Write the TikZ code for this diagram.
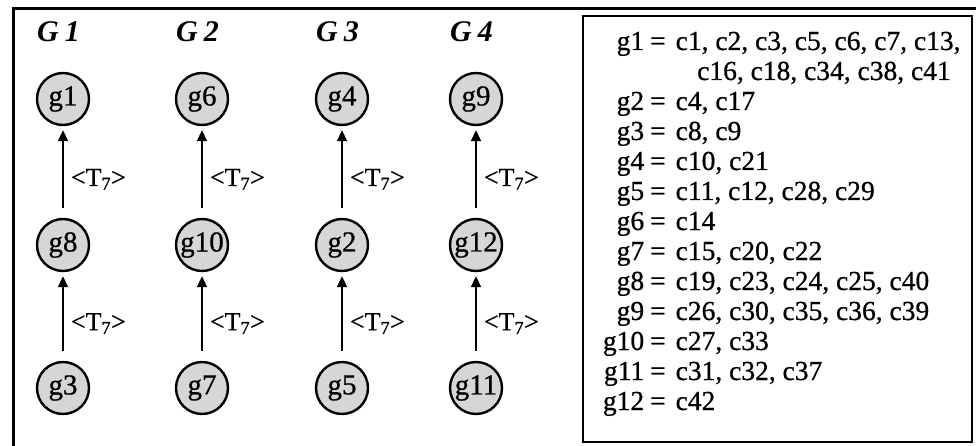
\documentclass[tikz,border=0pt]{standalone}
\usepackage{fontspec}
\setmainfont{Liberation Serif}
\newfontfamily\heavyserif{Liberation Serif}[FakeBold=0.7]
\usetikzlibrary{arrows.meta}
\newcommand\gline[2]{\makebox[42pt][r]{#1}\hspace{6pt}=\hspace{10pt}#2}
\begin{document}
\begin{tikzpicture}[x=1pt,y=-1pt,
  gnode/.style={circle,draw,line width=2.4pt,fill=black!16,minimum size=52pt,inner sep=0pt,font=\heavyserif\fontsize{29}{30}\selectfont},
  link/.style={line width=2pt,-{Triangle[length=11pt,width=10pt]},shorten <=10pt,shorten >=4pt},
  tlabel/.style={font=\heavyserif\fontsize{26}{27}\selectfont,anchor=west,inner sep=0pt,xshift=7pt},
  head/.style={font=\fontsize{30}{31}\selectfont\bfseries\itshape,anchor=base west,inner sep=0pt},
  listline/.style={font=\heavyserif\fontsize{27.5}{30}\selectfont,anchor=base west,inner sep=0pt}
]
\useasboundingbox (0,0) rectangle (976,446);
% frame
\draw[line width=3pt] (976,9) -- (13,9) -- (13,446);
\draw[line width=2.2pt] (583,16) rectangle (972,442);
% headings
\node[head] (h1) at (37,42) {G\hspace{0.2em}1};
\node[head] (h2) at (176,42) {G\hspace{0.2em}2};
\node[head] (h3) at (316,42) {G\hspace{0.2em}3};
\node[head] (h4) at (450,42) {G\hspace{0.2em}4};
% nodes
\node[gnode] (g1) at (63,99) {g1};
\node[gnode] (g8) at (63,245) {g8};
\node[gnode] (g3) at (63,388) {g3};
\node[gnode] (g6) at (202,99) {g6};
\node[gnode] (g10) at (202,245) {g10};
\node[gnode] (g7) at (202,388) {g7};
\node[gnode] (g4) at (342,99) {g4};
\node[gnode] (g2) at (342,245) {g2};
\node[gnode] (g5) at (342,388) {g5};
\node[gnode] (g9) at (476,99) {g9};
\node[gnode] (g12) at (476,245) {g12};
\node[gnode] (g11) at (476,388) {g11};
% arrows
\draw[link] (g8) -- (g1) node[tlabel,pos=0.42] (t1) {<T\textsubscript{7}>};
\draw[link] (g3) -- (g8) node[tlabel,pos=0.42] (t2) {<T\textsubscript{7}>};
\draw[link] (g10) -- (g6) node[tlabel,pos=0.42] (t3) {<T\textsubscript{7}>};
\draw[link] (g7) -- (g10) node[tlabel,pos=0.42] (t4) {<T\textsubscript{7}>};
\draw[link] (g2) -- (g4) node[tlabel,pos=0.42] (t5) {<T\textsubscript{7}>};
\draw[link] (g5) -- (g2) node[tlabel,pos=0.42] (t6) {<T\textsubscript{7}>};
\draw[link] (g12) -- (g9) node[tlabel,pos=0.42] (t7) {<T\textsubscript{7}>};
\draw[link] (g11) -- (g12) node[tlabel,pos=0.42] (t8) {<T\textsubscript{7}>};
% list
\node[listline] (l1) at (602,50) {\gline{g1}{c1, c2, c3, c5, c6, c7, c13,}};
\node[listline] (l1b) at (697,80) {c16, c18, c34, c38, c41};
\node[listline] (l2) at (602,110) {\gline{g2}{c4, c17}};
\node[listline] (l3) at (602,140) {\gline{g3}{c8, c9}};
\node[listline] (l4) at (602,170) {\gline{g4}{c10, c21}};
\node[listline] (l5) at (602,200) {\gline{g5}{c11, c12, c28, c29}};
\node[listline] (l6) at (602,230) {\gline{g6}{c14}};
\node[listline] (l7) at (602,260) {\gline{g7}{c15, c20, c22}};
\node[listline] (l8) at (602,290) {\gline{g8}{c19, c23, c24, c25, c40}};
\node[listline] (l9) at (602,320) {\gline{g9}{c26, c30, c35, c36, c39}};
\node[listline] (l10) at (602,350) {\gline{g10}{c27, c33}};
\node[listline] (l11) at (602,380) {\gline{g11}{c31, c32, c37}};
\node[listline] (l12) at (602,410) {\gline{g12}{c42}};
\end{tikzpicture}
\end{document}
